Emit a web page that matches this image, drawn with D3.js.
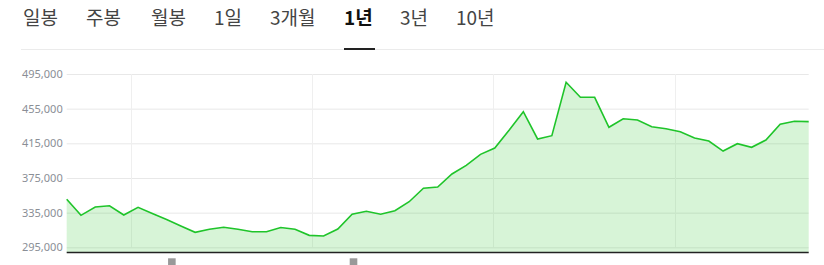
<!DOCTYPE html>
<html>
<head>
<meta charset="utf-8">
<script src="https://cdn.jsdelivr.net/npm/d3@7"></script>
<style>
  body { margin: 0; background: #fff; }
  text { font-family: "Noto Sans CJK KR", "Noto Sans", sans-serif; }
</style>
</head>
<body>
<div id="main"></div>
<script>
var tabs = ["일봉", "주봉", "월봉", "1일", "3개월", "1년", "3년", "10년"];
var tabX = [23, 86, 151, 214, 270, 344, 400, 456];
var activeTab = "1년";

// weekly closing prices, 1 year
var prices = [
  350400, 331900, 341500, 343000, 332300, 341200, 334000, 327100, 319600, 312300,
  315800, 318100, 315800, 313000, 313000, 317900, 315800, 308800, 308000, 316100,
  333100, 336500, 333100, 337200, 347600, 363100, 364600, 379600, 389600, 402300,
  409600, 430000, 451500, 420000, 423800, 485400, 468100, 468100, 433500, 443400,
  441900, 434200, 431900, 428400, 421100, 417700, 406100, 414600, 410400, 418800,
  437000, 440400, 440000
];
var yTicks = [295000, 335000, 375000, 415000, 455000, 495000];
var xGrid = [4.5, 17.2, 29.9, 42.65];
var handles = [7.37, 20.1];

var width = 824, height = 265;

var svg = d3.select("#main")
  .append("svg")
  .attr("width", width)
  .attr("height", height);

/* tabs */
svg.selectAll("text.tab")
  .data(tabs)
.enter().append("text")
  .attr("class", "tab")
  .attr("x", function(d, i){ return tabX[i]; })
  .attr("y", 25)
  .style("font-size", "19px")
  .style("font-weight", function(d){ return d == activeTab ? "bold" : "normal"; })
  .style("fill", function(d){ return d == activeTab ? "#111" : "#444"; })
  .text(function(d){ return d; });

svg.append("line")
  .attr("x1", 21).attr("x2", width).attr("y1", 49.5).attr("y2", 49.5)
  .style("stroke", "#ebebeb");

var ai = tabs.indexOf(activeTab);
svg.append("line")
  .attr("x1", tabX[ai]).attr("x2", tabX[ai] + 31).attr("y1", 49).attr("y2", 49)
  .style("stroke", "#222").style("stroke-width", 2);

/* chart */
var x = d3.scaleLinear().domain([0, prices.length - 1]).range([66.7, 808.7]);
var y = d3.scaleLinear().domain([289000, 495000]).range([252.5, 74]);

// horizontal grid + labels
svg.append("g")
  .attr("transform", "translate(66.7,0)")
  .call(d3.axisLeft(y).tickValues(yTicks).tickSize(-(808.7 - 66.7)).tickFormat(d3.format(",")))
  .call(function(g){
    g.select(".domain").remove();
    g.selectAll(".tick line").style("stroke", "#e8e8e8");
    g.selectAll(".tick text")
      .attr("x", -4)
      .style("font-size", "11px")
      .style("fill", "#8a8e96")
      .style("font-family", "'Noto Sans', sans-serif");
  });

// vertical grid
svg.selectAll("line.vgrid")
  .data(xGrid)
.enter().append("line")
  .attr("class", "vgrid")
  .attr("x1", function(d){ return Math.round(x(d)) + 0.5; })
  .attr("x2", function(d){ return Math.round(x(d)) + 0.5; })
  .attr("y1", y(495000)).attr("y2", y(295000))
  .style("stroke", "#efefef");

var area = d3.area()
  .x(function(d, i){ return x(i); })
  .y0(y(289000))
  .y1(function(d){ return y(d); });

var line = d3.line()
  .x(function(d, i){ return x(i); })
  .y(function(d){ return y(d); });

svg.append("path")
  .datum(prices)
  .attr("d", area)
  .style("fill", "#22c322")
  .style("fill-opacity", 0.18);

svg.append("path")
  .datum(prices)
  .attr("d", line)
  .style("fill", "none")
  .style("stroke", "#1fc42a")
  .style("stroke-width", 1.6);

// bottom axis line
svg.append("line")
  .attr("x1", 66.7).attr("x2", 808.7)
  .attr("y1", y(289000)).attr("y2", y(289000))
  .style("stroke", "#222").style("stroke-width", 1.6);

// scroll handles
svg.selectAll("rect.handle")
  .data(handles)
.enter().append("rect")
  .attr("class", "handle")
  .attr("x", function(d){ return x(d) - 3.8; })
  .attr("y", 258.3)
  .attr("width", 7.6)
  .attr("height", 8)
  .style("fill", "#999");
</script>
</body>
</html>
